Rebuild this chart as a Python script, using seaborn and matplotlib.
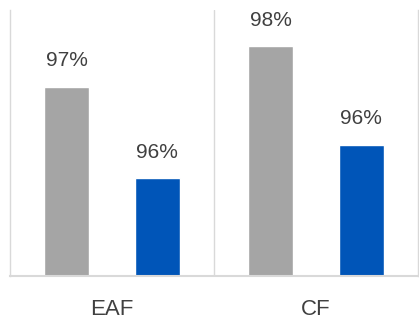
import matplotlib
matplotlib.use("Agg")
import matplotlib.pyplot as plt
import seaborn as sns
import pandas as pd

categories = ["EAF", "CF"]
series_names = ["Series 1", "Series 2"]
series1_values = [97.13, 97.59]
series2_values = [96.10, 96.48]
colors = ["#A5A5A5", "#0055B8"]

df = pd.DataFrame({
    "category": categories * 2,
    "series": [series_names[0]] * 2 + [series_names[1]] * 2,
    "value": series1_values + series2_values,
})

sns.set_style("white")
plt.rcParams["font.family"] = ["Liberation Sans", "DejaVu Sans"]

fig = plt.figure(figsize=(4.19, 3.24), dpi=100)
ax = fig.add_axes([10 / 419, 1 - 275.7 / 324, 408 / 419, 265.7 / 324])

sns.barplot(data=df, x="category", y="value", hue="series", order=categories,
            hue_order=series_names, palette=colors, width=0.888, gap=0.5,
            legend=False, ax=ax, saturation=1)

ax.set_ylim(95, 98)
ax.set_xlim(-0.5, 1.5)
for c in ax.containers:
    ax.bar_label(c, labels=[f"{v:.0f}%" for v in c.datavalues], padding=12,
                 fontsize=15, color="#404040")

ax.set_xlabel("")
ax.set_ylabel("")
ax.set_yticks([])
ax.tick_params(axis="x", length=0, pad=17, labelsize=16, labelcolor="#404040")
for s in ["left", "right", "bottom"]:
    ax.spines[s].set_visible(True)
    ax.spines[s].set_color("#D9D9D9")
    ax.spines[s].set_linewidth(1.0)
ax.spines["bottom"].set_linewidth(1.5)
ax.spines["top"].set_visible(False)
ax.axvline(0.5, color="#D9D9D9", lw=1.0)

fig.savefig("out.png", dpi=100)
